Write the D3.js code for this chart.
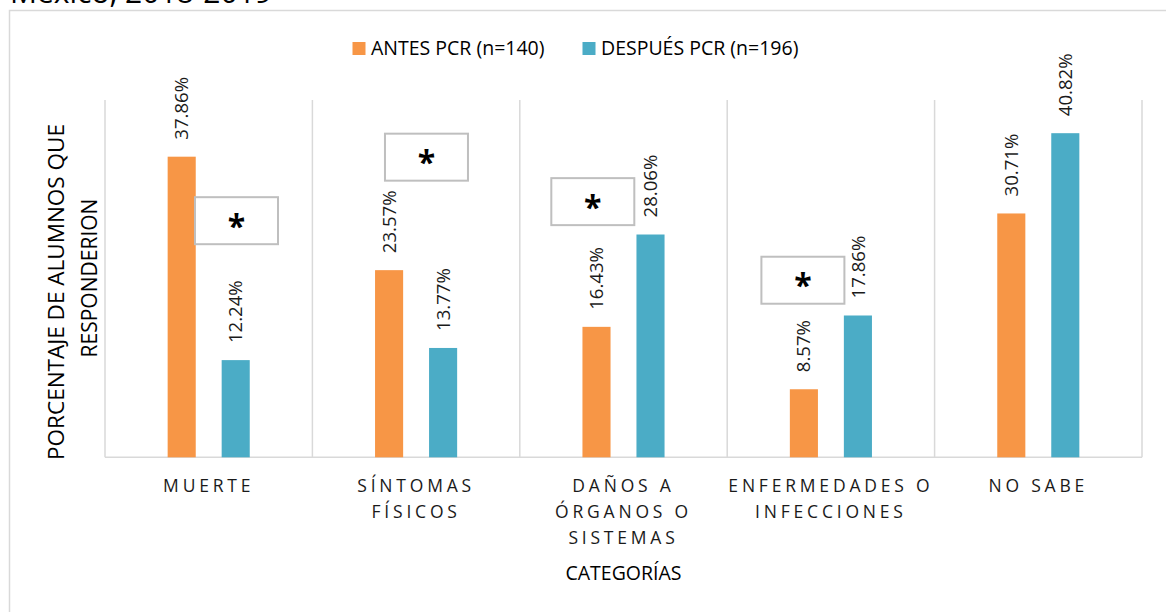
<!DOCTYPE html>
<html>
<head>
<meta charset="utf-8">
<script src="https://cdn.jsdelivr.net/npm/d3@7"></script>
<style>
  html, body { margin: 0; padding: 0; background: #fff; }
  svg { display: block; font-family: "Open Sans", sans-serif; }
</style>
</head>
<body>
<svg id="chart" width="1166" height="612"></svg>
<script>
// ---- data ----
const categories = ["MUERTE", "SÍNTOMAS FÍSICOS", "DAÑOS A ÓRGANOS O SISTEMAS", "ENFERMEDADES O INFECCIONES", "NO SABE"];
const tickLabels = [["MUERTE"], ["SÍNTOMAS", "FÍSICOS"], ["DAÑOS A", "ÓRGANOS O", "SISTEMAS"], ["ENFERMEDADES O", "INFECCIONES"], ["NO SABE"]];
const seriesNames = ["ANTES PCR (n=140)", "DESPUÉS PCR (n=196)"];
const antes = [37.86, 23.57, 16.43, 8.57, 30.71];
const despues = [12.24, 13.77, 28.06, 17.86, 40.82];
const significant = ["MUERTE", "SÍNTOMAS FÍSICOS", "DAÑOS A ÓRGANOS O SISTEMAS", "ENFERMEDADES O INFECCIONES"];
const sigLevel = [29.8, 37.8, 32.2, 22.3];      // vertical placement of the "*" boxes, in % units
const yMax = 45;
const xTitle = "CATEGORÍAS";
const yTitle = ["PORCENTAJE DE ALUMNOS QUE", "RESPONDERION"];
const title = "México, 2018-2019";

// ---- layout ----
const svg = d3.select("#chart");
const colors = ["#F79646", "#4BACC6"];
const plot = { left: 105, right: 1142, top: 100, bottom: 457.3 };

const x0 = d3.scaleBand().domain(categories).range([plot.left, plot.right]).padding(0);
const x1 = d3.scaleBand().domain(seriesNames).range([0, x0.bandwidth()])
  .paddingInner(0.48).paddingOuter(1.16);
const y = d3.scaleLinear().domain([0, yMax]).range([plot.bottom, plot.top]);
const color = d3.scaleOrdinal().domain(seriesNames).range(colors);

const rows = categories.map((c, i) => ({ cat: c, values: [
  { s: seriesNames[0], v: antes[i] }, { s: seriesNames[1], v: despues[i] } ] }));

// outer chart border
svg.append("rect").attr("x", 9.5).attr("y", 10.5).attr("width", 1300).attr("height", 700)
  .attr("fill", "#fff").attr("stroke", "#D9D9D9").attr("stroke-width", 1.5);

// cut-off title at top
svg.append("text").attr("x", 10).attr("y", 2.5).attr("font-size", 30).attr("fill", "#000")
  .text(title);

// vertical category gridlines
const bounds = categories.map(c => x0(c)).concat([plot.right]);
svg.append("g").selectAll("line").data(bounds).join("line")
  .attr("x1", d => d).attr("x2", d => d)
  .attr("y1", plot.top).attr("y2", plot.bottom)
  .attr("stroke", "#D9D9D9").attr("stroke-width", 1.5);

// baseline
svg.append("line").attr("x1", plot.left).attr("x2", plot.right)
  .attr("y1", y(0)).attr("y2", y(0)).attr("stroke", "#D9D9D9").attr("stroke-width", 1.5);

// bars
const groups = svg.append("g").selectAll("g").data(rows).join("g")
  .attr("transform", d => `translate(${x0(d.cat)},0)`);
groups.selectAll("rect").data(d => d.values).join("rect")
  .attr("x", d => x1(d.s)).attr("width", x1.bandwidth())
  .attr("y", d => y(d.v)).attr("height", d => y(0) - y(d.v))
  .attr("fill", d => color(d.s));

// data labels (rotated)
groups.selectAll("text").data(d => d.values).join("text")
  .attr("transform", d => `translate(${x1(d.s) + x1.bandwidth() / 2 + 6.6},${y(d.v) - 17}) rotate(-90)`)
  .attr("font-size", 18.6).attr("fill", "#1a1a1a")
  .text(d => d.v.toFixed(2) + "%");

// significance boxes
const boxOffset = [0.134, 0.05, -0.148, -0.135]; // horizontal offset from band centre, in band widths
const boxW = 83, boxH = 47;
const sig = significant.map((c, i) => ({ cat: c, lvl: sigLevel[i], off: boxOffset[i] }));
const sg = svg.append("g").selectAll("g").data(sig).join("g")
  .attr("transform", d => `translate(${x0(d.cat) + x0.bandwidth() * (0.5 + d.off)},${y(d.lvl)})`);
sg.append("rect").attr("x", -boxW / 2).attr("y", -boxH / 2).attr("width", boxW).attr("height", boxH)
  .attr("fill", "#fff").attr("stroke", "#BFBFBF").attr("stroke-width", 2);
sg.append("text").attr("text-anchor", "middle").attr("y", 17)
  .attr("font-size", 32).attr("font-weight", "bold").attr("fill", "#000").text("*");

// x tick labels
const ticks = svg.append("g").selectAll("text").data(categories).join("text")
  .attr("text-anchor", "middle").attr("font-size", 17.5).attr("letter-spacing", 3.8)
  .attr("fill", "#1a1a1a")
  .attr("transform", d => `translate(${x0(d) + x0.bandwidth() / 2},491.5)`);
ticks.each(function(d, i) {
  d3.select(this).selectAll("tspan").data(tickLabels[i]).join("tspan")
    .attr("x", 0).attr("y", (t, j) => j * 26).text(t => t);
});

// x axis title
svg.append("text").attr("x", (plot.left + plot.right) / 2).attr("y", 579.5)
  .attr("text-anchor", "middle").attr("font-size", 19.5).attr("fill", "#000").text(xTitle);

// y axis title
svg.append("text").attr("transform", "translate(63.5,292) rotate(-90)")
  .attr("text-anchor", "middle").attr("font-size", 22.5).attr("fill", "#000").text(yTitle[0]);
svg.append("text").attr("transform", "translate(97,278) rotate(-90)")
  .attr("text-anchor", "middle").attr("font-size", 21).attr("fill", "#000").text(yTitle[1]);

// legend
const lg = svg.append("g").selectAll("g").data(seriesNames).join("g")
  .attr("transform", (d, i) => `translate(${[352.5, 582.5][i]},42)`);
lg.append("rect").attr("width", 13).attr("height", 13).attr("fill", d => color(d));
lg.append("text").attr("x", 18.5).attr("y", 13).attr("font-size", 19.5).attr("fill", "#000").text(d => d);
</script>
</body>
</html>
